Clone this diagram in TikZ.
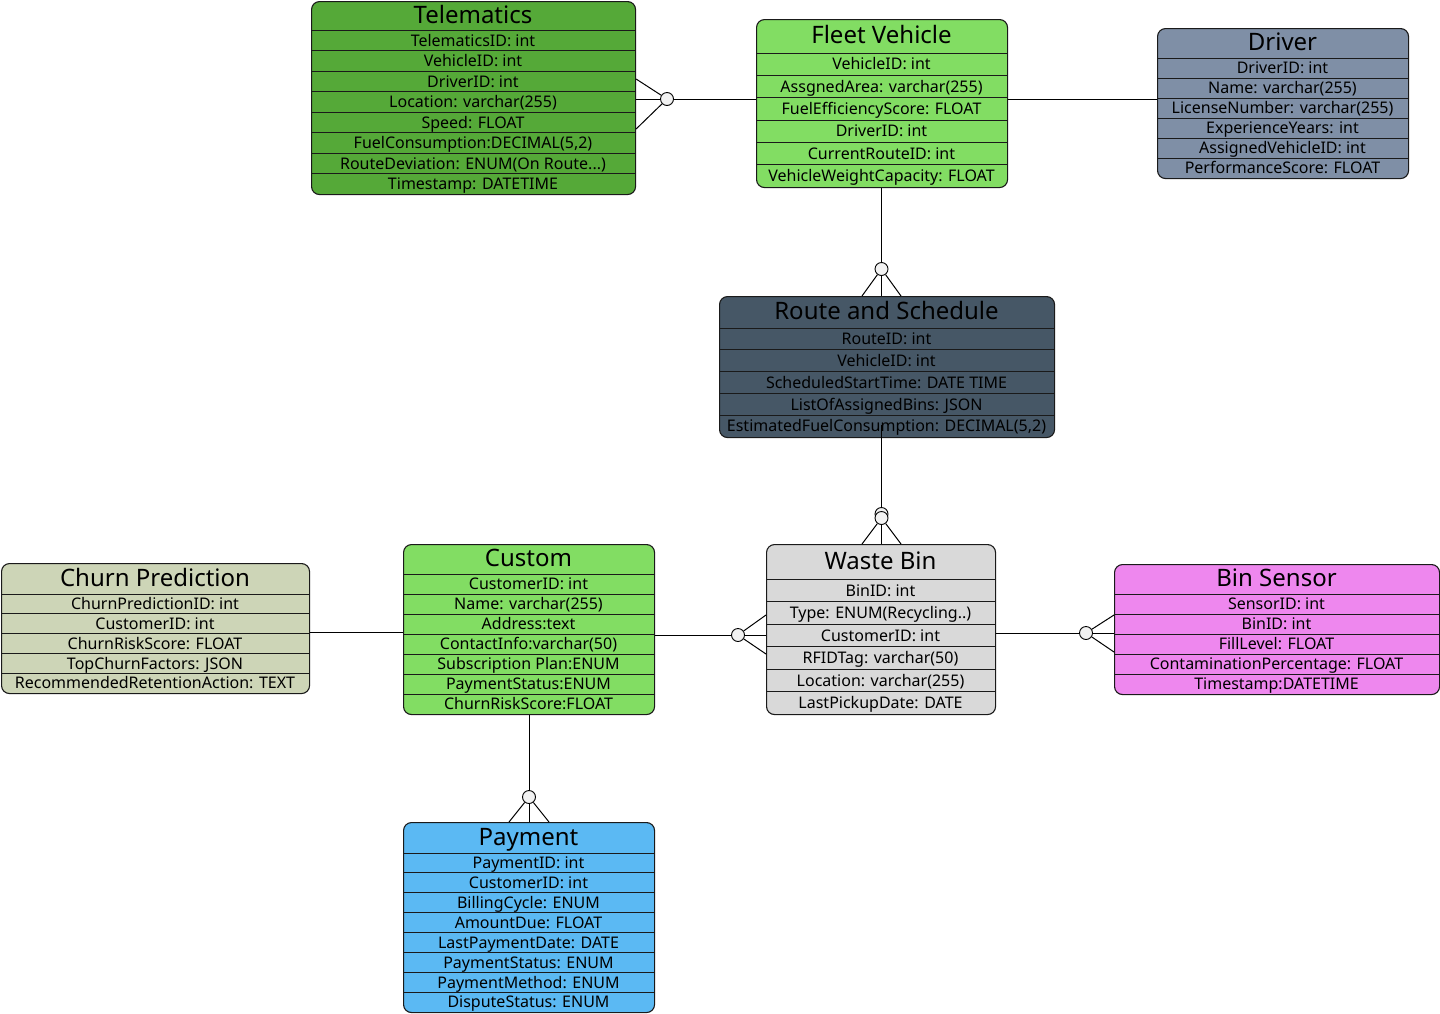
\documentclass[tikz,border=0pt]{standalone}
\usepackage{fontspec}
\setmainfont{Noto Sans}
\definecolor{telegreen}{HTML}{55A938}
\definecolor{lightgreen}{HTML}{82DD63}
\definecolor{driverc}{HTML}{7F8FA6}
\definecolor{routec}{HTML}{465766}
\definecolor{binc}{HTML}{D9D9D9}
\definecolor{churnc}{HTML}{CDD5B7}
\definecolor{sensorc}{HTML}{EE87EE}
\definecolor{payc}{HTML}{5BB9F3}
\definecolor{edgec}{HTML}{1A1A1A}
\definecolor{crowfill}{HTML}{F2F2F2}
\newcommand\erthreedots{.\kern0pt.\kern0pt.}
\newcommand\ertwodots{.\kern0pt.}
\tikzset{
  tablebox/.style={draw=edgec, line width=1.1pt, rounded corners=8pt, inner sep=0pt},
  titletext/.style={font=\fontsize{24}{28}\selectfont, text=black, inner sep=0pt, anchor=base},
  rowtext/.style={font=\fontsize{16}{19}\selectfont, text=black, inner sep=0pt, anchor=base},
  rowline/.style={draw=edgec, line width=1pt},
  conn/.style={draw=black, line width=1pt},
  crow/.style={circle, draw=black, line width=0.9pt, fill=crowfill, minimum size=13pt, inner sep=0pt},
}
\newcommand\ertable[9]{%
  \gdef\ernrows{0}%
  \foreach \r in {#9}{\xdef\ernrows{\the\numexpr\ernrows+1\relax}}%
  \pgfmathsetmacro\erw{#3-#2}%
  \pgfmathsetmacro\erh{#6-#4}%
  \pgfmathsetmacro\ercx{(#2+#3)/2}%
  \pgfmathsetmacro\errh{(#6-#5)/\ernrows}%
  \node[tablebox, fill=#7, minimum width=\erw pt, minimum height=\erh pt, anchor=north west] (#1) at (#2,#4) {};
  \node[titletext] (#1-title) at (\ercx,{(#4+#5)/2+7.5}) {#8};
  \draw[rowline] (#2,#5) -- (#3,#5);
  \foreach \r [count=\i] in {#9}{%
    \node[rowtext] (#1-\i) at (\ercx,{#5+(\i-0.5)*\errh+5.8}) {\r};
    \ifnum\i<\ernrows \draw[rowline] (#2,{#5+\i*\errh}) -- (#3,{#5+\i*\errh});\fi
  }%
}
\begin{document}
\begin{tikzpicture}[x=1pt,y=-1pt]
\useasboundingbox (0,0) rectangle (1440,1013);

\ertable{tele}{311}{635}{1}{30}{194}{telegreen}{Telematics}{TelematicsID: int, VehicleID: int, DriverID: int, Location: varchar(255), Speed: FLOAT, {FuelConsumption:DECIMAL(5,2)}, {RouteDeviation: ENUM(On Route\erthreedots)}, Timestamp: DATETIME}
\ertable{fleet}{756}{1007}{19}{53}{187}{lightgreen}{Fleet Vehicle}{VehicleID: int, AssgnedArea: varchar(255), FuelEfficiencyScore: FLOAT, DriverID: int, CurrentRouteID: int, VehicleWeightCapacity: FLOAT}
\ertable{driver}{1157}{1408}{28}{58}{178}{driverc}{Driver}{DriverID: int, Name: varchar(255), LicenseNumber: varchar(255), ExperienceYears: int, AssignedVehicleID: int, PerformanceScore: FLOAT}
\ertable{route}{719}{1054}{296}{328}{437}{routec}{Route and Schedule}{RouteID: int, VehicleID: int, ScheduledStartTime: DATE TIME, ListOfAssignedBins: JSON, {EstimatedFuelConsumption: DECIMAL(5,2)}}
\ertable{bin}{766}{995}{544}{579}{714}{binc}{Waste Bin}{BinID: int, {Type: ENUM(Recycling\ertwodots)}, CustomerID: int, RFIDTag: varchar(50), Location: varchar(255), LastPickupDate: DATE}
\ertable{churn}{1}{309}{563}{594}{693}{churnc}{Churn Prediction}{ChurnPredictionID: int, CustomerID: int, ChurnRiskScore: FLOAT, TopChurnFactors: JSON, RecommendedRetentionAction: TEXT}
\ertable{cust}{403}{654}{544}{574}{714}{lightgreen}{Custom}{CustomerID: int, Name: varchar(255), Address:text, ContactInfo:varchar(50), Subscription Plan:ENUM, PaymentStatus:ENUM, ChurnRiskScore:FLOAT}
\ertable{pay}{403}{654}{822}{853}{1012}{payc}{Payment}{PaymentID: int, CustomerID: int, BillingCycle: ENUM, AmountDue: FLOAT, LastPaymentDate: DATE, PaymentStatus: ENUM, PaymentMethod: ENUM, DisputeStatus: ENUM}
\ertable{sensor}{1114}{1439}{564}{594}{694}{sensorc}{Bin Sensor}{SensorID: int, BinID: int, FillLevel: FLOAT, ContaminationPercentage: FLOAT, Timestamp:DATETIME}

% Telematics -- Fleet Vehicle
\node[crow] (k1) at (667,99) {};
\draw[conn] (fleet.west |- k1) -- (k1);
\draw[conn] (k1) -- (tele.east |- 0,79);
\draw[conn] (k1) -- (tele.east |- k1);
\draw[conn] (k1) -- (tele.east |- 0,129);
% Fleet Vehicle -- Driver
\draw[conn] (fleet.east |- 0,99) -- (driver.west |- 0,99);
% Fleet Vehicle -- Route
\node[crow] (k2) at (881.5,269) {};
\draw[conn] (k2 |- fleet.south) -- (k2);
\draw[conn] (k2) -- (862,0 |- route.north);
\draw[conn] (k2) -- (k2 |- route.north);
\draw[conn] (k2) -- (901,0 |- route.north);
% Route -- Waste Bin
\coordinate (rsrc) at (881.5,425);
\node[crow] (k3a) at (881.5,514) {};
\node[crow] (k3b) at (881.5,518) {};
\draw[conn] (rsrc) -- (k3a);
\draw[conn] (k3b) -- (862,0 |- bin.north);
\draw[conn] (k3b) -- (k3b |- bin.north);
\draw[conn] (k3b) -- (901,0 |- bin.north);
% Churn -- Custom
\draw[conn] (churn.east |- 0,632) -- (cust.west |- 0,632);
% Custom -- Waste Bin
\node[crow] (k4) at (738,635) {};
\draw[conn] (cust.east |- k4) -- (k4);
\draw[conn] (k4) -- (bin.west |- 0,615);
\draw[conn] (k4) -- (bin.west |- k4);
\draw[conn] (k4) -- (bin.west |- 0,654);
% Waste Bin -- Bin Sensor
\node[crow] (k5) at (1086,633) {};
\draw[conn] (bin.east |- k5) -- (k5);
\draw[conn] (k5) -- (sensor.west |- 0,615);
\draw[conn] (k5) -- (sensor.west |- k5);
\draw[conn] (k5) -- (sensor.west |- 0,652);
% Custom -- Payment
\node[crow] (k6) at (529,797) {};
\draw[conn] (k6 |- cust.south) -- (k6);
\draw[conn] (k6) -- (509,0 |- pay.north);
\draw[conn] (k6) -- (k6 |- pay.north);
\draw[conn] (k6) -- (549,0 |- pay.north);
\end{tikzpicture}
\end{document}
